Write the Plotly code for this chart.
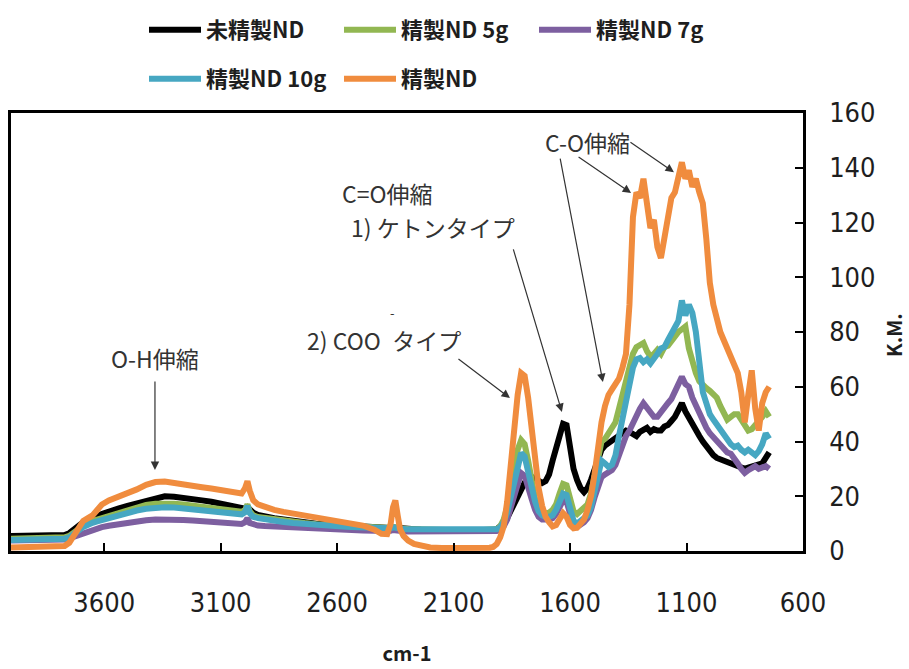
import plotly.graph_objects as go

# ---------------- data ----------------
wavenumber = [
    4000, 3900, 3800, 3770, 3750, 3730, 3710, 3690, 3670, 3650, 3630, 3610, 3580, 3540, 3500,
    3460, 3420, 3380, 3340, 3300, 3260, 3220, 3180, 3140, 3100, 3060, 3030, 3010, 2995, 2985,
    2975, 2960, 2940, 2910, 2870, 2830, 2790, 2740, 2690, 2640, 2590, 2540, 2490, 2440, 2410,
    2385, 2370, 2360, 2350, 2340, 2330, 2315, 2295, 2270, 2240, 2200, 2150, 2100, 2050, 2000,
    1960,
    1945, 1930, 1915, 1900, 1885, 1870, 1855, 1840, 1825, 1810, 1795, 1780, 1765, 1750, 1735,
    1720, 1705, 1690, 1675, 1660, 1645, 1630, 1615, 1600, 1585, 1570, 1555, 1540, 1525, 1510,
    1495, 1480, 1465, 1450, 1435, 1420, 1405, 1390, 1375, 1360, 1345, 1330, 1315, 1300, 1285,
    1270, 1255, 1240, 1225, 1210, 1195, 1180, 1165, 1150, 1135, 1120, 1105, 1090, 1075, 1060,
    1045, 1030, 1015, 1000, 985, 970, 955, 940, 925, 910, 895, 880, 865, 850, 835,
    820, 805, 790, 775, 760, 745,
]

km_unrefined = [
    5.5, 5.5, 5.6, 5.8, 6.5, 8, 9.5, 10.5, 11, 11.5, 12.5, 13.5, 14.5, 15.5, 16.5,
    17.5, 18.5, 19.5, 20, 19.8, 19.5, 19, 18.5, 18, 17.2, 16.5, 16, 15.5, 15.5, 16,
    15, 14, 13.2, 12.5, 12, 11.5, 11, 10.5, 10, 9.7, 9.4, 9.1, 8.9, 8.7, 8.5,
    8.4, 8.4, 8.6, 8.5, 8.3, 8.2, 8.1, 8, 7.9, 7.8, 7.7, 7.6, 7.5, 7.4, 7.4,
    7.4,
    7.4, 7.6, 8, 8.8, 10, 12, 14.5, 17, 20, 23, 25, 26.5, 27, 26.5, 25.5,
    24.8, 25.5, 28, 33, 38, 43, 46.5, 46, 37, 30, 26, 23, 21.5, 23, 26,
    30, 34, 37, 38.5, 39.5, 40.5, 41, 42, 43, 44, 43.5, 43, 42, 43.5, 44,
    45, 43.5, 44.5, 44, 44, 45.5, 46, 47.5, 49, 51.5, 54, 51, 49, 46, 44,
    42, 40, 38, 36.5, 35, 34, 33.5, 33, 32.5, 32, 31.5, 31, 30.5, 30, 30.5,
    31, 31.5, 31.5, 32, 34, 36,
]

km_5g = [
    4.5, 4.5, 4.6, 5, 5.5, 6.5, 8, 9.5, 10.5, 11, 11.5, 12, 13, 14, 15,
    16, 16.8, 17.3, 17.5, 17.3, 17, 16.6, 16.2, 15.8, 15.3, 14.8, 14.5, 14.3, 15, 17,
    14.5, 13, 12.4, 12, 11.5, 11, 10.6, 10.2, 9.8, 9.5, 9.2, 8.9, 8.7, 8.5, 8.4,
    8.3, 8.4, 8.8, 8.6, 8.3, 8.2, 8.1, 8, 7.9, 7.8, 7.7, 7.6, 7.6, 7.5, 7.5,
    7.5,
    7.5, 7.6, 8, 9, 11.5, 16, 23, 30, 37, 40.5, 39, 33, 25, 19, 15.5,
    14, 13.8, 14, 15, 17, 21, 24.5, 24, 19, 14.5, 13.5, 14.5, 15.5, 17, 21,
    27, 35, 40, 41, 43, 44, 47, 52, 57, 62, 68, 72, 74.5, 75, 76,
    73, 71, 72, 73.5, 72, 74.5, 75, 77, 78, 80, 81, 82, 74, 69, 65,
    62, 60.5, 59.5, 58.5, 57.5, 56, 53, 50, 48, 49, 50, 50, 48, 46, 44,
    44.5, 46, 47, 49, 51, 49,
]

km_7g = [
    3.8, 3.8, 3.9, 4.2, 4.6, 5.2, 6, 6.8, 7.4, 7.9, 8.3, 8.7, 9.2, 9.8, 10.3,
    10.8, 11.2, 11.5, 11.6, 11.5, 11.3, 11.1, 10.9, 10.7, 10.4, 10.1, 10, 9.9, 10.5, 12,
    10.2, 9.6, 9.3, 9.1, 8.9, 8.7, 8.5, 8.3, 8.1, 7.9, 7.7, 7.6, 7.5, 7.4, 7.3,
    7.3, 7.4, 7.7, 7.5, 7.3, 7.2, 7.2, 7.1, 7.1, 7, 7, 7, 7, 7, 7,
    7,
    7, 7.1, 7.3, 7.8, 9, 11.5, 16, 21, 26, 28.5, 27.5, 24, 19, 15, 12.5,
    11.5, 11.3, 11.5, 12, 13.5, 16, 18.5, 18, 13.5, 9.5, 8.8, 9.5, 10.5, 12, 15,
    19.5, 24, 27, 28, 29, 29.6, 31.5, 35, 39, 42, 44, 47, 50, 52, 54,
    52, 50, 49, 49, 51, 53, 54, 55.5, 58, 61, 63.6, 61, 60, 56, 53,
    50.5, 48, 45, 43, 41.5, 40.5, 39, 37, 36, 35.5, 34, 32, 30, 28.5, 29.5,
    30.5, 31, 30, 30.5, 31, 30,
]

km_10g = [
    4, 4, 4.1, 4.5, 5, 6, 7.5, 8.8, 9.8, 10.3, 10.8, 11.3, 12.2, 13.2, 14,
    14.8, 15.4, 15.8, 16, 15.9, 15.6, 15.3, 15, 14.6, 14.2, 13.8, 13.5, 13.4, 14.2, 16.5,
    13.8, 12.5, 12, 11.5, 11, 10.6, 10.2, 9.8, 9.5, 9.2, 9, 8.8, 8.6, 8.4, 8.3,
    8.2, 8.3, 8.7, 8.5, 8.2, 8.1, 8, 7.9, 7.9, 7.8, 7.7, 7.6, 7.6, 7.5, 7.5,
    7.5,
    7.5, 7.6, 7.9, 8.7, 10.5, 14, 19.5, 26, 32, 35.8, 34.5, 30, 23.5, 18, 14.5,
    13, 12.4, 12.5, 13, 15, 18.5, 21, 20.5, 15.5, 11, 10, 10.8, 11.8, 13, 16,
    22, 29, 33, 32, 30.7, 31.5, 35, 42, 49, 55, 61, 67, 70, 70.5, 69,
    70, 68.5, 70, 72, 74, 74.5, 77, 79, 81, 84, 91.5, 86, 90, 87, 80,
    66, 58, 54, 50, 48, 46, 44.5, 43, 41, 39, 38, 38.5, 37, 36, 37,
    35.8, 35, 36.5, 39, 43, 41,
]

km_refined = [
    1.3, 1.3, 1.5, 1.8, 3, 6, 9, 11, 12, 13, 15, 17, 18.5, 19.8, 21,
    22.5, 24.2, 25.2, 25.4, 25, 24.5, 24, 23.3, 22.8, 22.2, 21.5, 21, 21, 23, 25.5,
    22, 18.5, 17, 16, 15, 14.3, 13.7, 13, 12.2, 11.4, 10.8, 10.2, 9.3, 7.8, 6.3,
    6.2, 10, 16, 18.5, 13, 8, 5.5, 3.8, 2.6, 1.8, 1.3, 1.1, 1, 1, 1,
    1.1,
    1.2, 1.5, 2.5, 5, 9, 18, 32, 45, 57, 65, 64, 56, 44, 33, 23,
    16.5, 12.5, 10.5, 9, 9.5, 11.5, 13.8, 12.5, 9.5, 8.3, 8.5, 10, 11.5, 15, 20,
    28, 40, 47, 53, 57, 59, 61, 63, 67, 72, 90, 122, 131, 129, 136,
    128, 118, 121, 111, 107, 115, 122, 129, 131, 137, 142, 136, 139, 133, 136,
    131, 127, 114, 98, 90, 84, 80, 77, 74, 72, 69, 65, 58, 47, 57,
    66, 52, 44, 54, 58, 60,
]

series_names = ["未精製ND", "精製ND 5g", "精製ND 7g", "精製ND 10g", "精製ND"]
series_values = [km_unrefined, km_5g, km_7g, km_10g, km_refined]
series_colors = ["#000000", "#92B752", "#7D5FA0", "#46A7C2", "#F08C3E"]
series_legend = ["legend", "legend", "legend", "legend2", "legend2"]

x_ticks = [3600, 3100, 2600, 2100, 1600, 1100, 600]
y_ticks = [0, 20, 40, 60, 80, 100, 120, 140, 160]

# ---------------- figure ----------------
fig = go.Figure()
for name, vals, col, lg in zip(series_names, series_values, series_colors, series_legend):
    fig.add_trace(go.Scatter(
        x=wavenumber, y=vals, mode="lines", name=name, legend=lg,
        line=dict(color=col, width=6, shape="linear"),
    ))

tick_font = dict(family="Liberation Sans Narrow, DejaVu Sans Condensed, Noto Sans", size=27, color="#1e1e1e")
cjk = "Noto Sans CJK JP, Noto Sans, sans-serif"
legend_common = dict(
    orientation="h", xref="container", yref="container",
    xanchor="left", yanchor="middle",
    entrywidth=128, entrywidthmode="pixels", itemwidth=52,
    font=dict(family=cjk, size=22, color="#1e1e1e", weight="bold"),
    bgcolor="rgba(0,0,0,0)", tracegroupgap=0,
)

fig.update_layout(
    width=909, height=669,
    margin=dict(l=11, r=106, t=113, b=118, autoexpand=False),
    paper_bgcolor="white", plot_bgcolor="white",
    showlegend=True,
    legend=dict(legend_common, x=144 / 909, y=1 - 30 / 669),
    legend2=dict(legend_common, x=144 / 909, y=1 - 79 / 669),
    xaxis=dict(
        range=[4000, 600], tickmode="array", tickvals=x_ticks,
        ticks="inside", ticklen=8, tickwidth=2, tickcolor="black",
        showline=True, linewidth=2.5, linecolor="black", mirror=True,
        showgrid=False, zeroline=False,
        tickfont=tick_font, ticklabelstandoff=26,
        title=dict(text="<b>cm-1</b>", font=dict(family=cjk, size=20, color="#1e1e1e"), standoff=30),
    ),
    yaxis=dict(
        range=[0, 160], tickmode="array", tickvals=y_ticks, side="right",
        ticks="inside", ticklen=8, tickwidth=2, tickcolor="black",
        showline=True, linewidth=2.5, linecolor="black", mirror=True,
        showgrid=False, zeroline=False,
        tickfont=tick_font, ticklabelstandoff=18,
    ),
)

# y-axis title placed as rotated text next to the right-hand tick labels
fig.add_annotation(xref="x domain", yref="y domain",
                   x=(893 - 11) / 792, y=(551 - 335) / 438,
                   text="<b>K.M.</b>", showarrow=False, textangle=-90,
                   font=dict(family=cjk, size=20, color="#1e1e1e"),
                   xanchor="center", yanchor="middle")

ann_font = dict(family=cjk, size=23, color="#333333")
texts = [
    ("O-H伸縮", 3382, 70.5),
    ("C=O伸縮", 2382, 130.8),
    ("1) ケトンタイプ", 2188, 118.4),
    ("2) COO\u2002タイプ", 2400, 77.1),
    ("C-O伸縮", 1527, 149.4),
]
for t, xv, yv in texts:
    fig.add_annotation(x=xv, y=yv, xref="x", yref="y", text=t, showarrow=False,
                       font=ann_font, xanchor="center", yanchor="middle")
fig.add_annotation(x=2364, y=87.2, xref="x", yref="y", text="-", showarrow=False,
                   font=dict(family=cjk, size=13, color="#333333"))

# arrows: tip in data coords, tail as pixel offset
arrows = [
    (3382, 29.6, 0, -90),
    (1858, 55.9, -53, -40),
    (1635, 50.8, -49, -164),
    (1459, 61.7, -43, -225),
    (1338, 130.8, -54, -37),
    (1154, 138.4, -45, -31),
]
for xv, yv, axp, ayp in arrows:
    fig.add_annotation(x=xv, y=yv, xref="x", yref="y", text="", showarrow=True,
                       ax=axp, ay=ayp, arrowhead=2, arrowsize=1.4, arrowwidth=1.2,
                       arrowcolor="#333333", standoff=0)

fig.write_html("out.html", config={"displayModeBar": False},
               post_script="document.body.style.margin='0px';")
